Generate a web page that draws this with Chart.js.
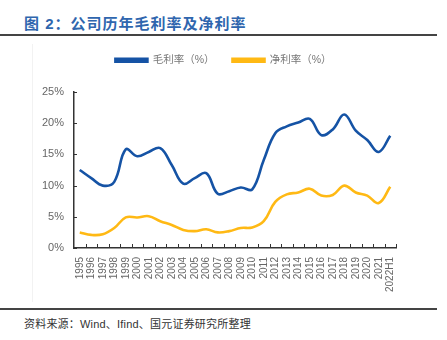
<!DOCTYPE html>
<html>
<head>
<meta charset="utf-8">
<script src="https://cdn.jsdelivr.net/npm/chart.js@4/dist/chart.umd.min.js"></script>
<style>
  body { margin: 0; background: #fff; width: 447px; height: 340px; position: relative; overflow: hidden; font-family: "Liberation Sans", "Noto Sans CJK SC", sans-serif; }
  .title { position: absolute; left: 24px; top: 12px; font-size: 15px; font-weight: bold; color: #2f66ae; letter-spacing: 1px; }
  .rule { position: absolute; left: 0; width: 437px; height: 1.5px; background: #444; }
  .frame { position: absolute; left: 32px; top: 44px; width: 1px; height: 258px; background: #f2f2f2; }
  .wrap { position: absolute; left: 0; top: 30px; width: 447px; height: 278px; }
  .source { position: absolute; left: 24px; top: 315px; font-size: 11px; color: #333; letter-spacing: 0.2px; }
</style>
</head>
<body>
<div class="title">图 2：公司历年毛利率及净利率</div>
<div class="rule" style="top:34px"></div>
<div class="frame"></div>
<div class="wrap"><canvas id="marginChart"></canvas></div>
<div class="rule" style="top:308px"></div>
<div class="source">资料来源：Wind、Ifind、国元证券研究所整理</div>

<script>
// years on the x axis
const years = ['1995', '1996', '1997', '1998', '1999', '2000', '2001', '2002', '2003', '2004',
    '2005', '2006', '2007', '2008', '2009', '2010', '2011', '2012', '2013', '2014',
    '2015', '2016', '2017', '2018', '2019', '2020', '2021', '2022H1']

// gross margin (%)
const grossMargin = [12.5, 11.2, 10.0, 10.6, 15.8, 14.7, 15.4, 16.0, 13.3, 10.3,
    11.2, 12.0, 8.7, 9.1, 9.7, 9.4, 14.1, 18.4, 19.5, 20.1,
    20.7, 18.1, 19.0, 21.4, 18.8, 17.3, 15.4, 18.0]

// net margin (%)
const netMargin = [2.5, 2.1, 2.2, 3.2, 4.9, 4.9, 5.1, 4.3, 3.7, 2.9,
    2.7, 3.0, 2.5, 2.7, 3.2, 3.3, 4.3, 7.4, 8.6, 8.9,
    9.5, 8.4, 8.5, 10.0, 8.9, 8.4, 7.2, 9.8]

const yTicks = [0, 5, 10, 15, 20, 25]

const blue = '#1553a5'
const yellow = '#ffb914'
const axisColor = '#333'

Chart.defaults.font.family = '"Liberation Sans", "Noto Sans CJK SC", sans-serif'
Chart.defaults.color = '#666'

// fixed legend height, and centre it on the whole canvas
const legendBox = {
    id: 'legendBox',
    beforeInit(chart) {
        const fit = chart.legend.fit
        chart.legend.fit = function () {
            fit.bind(chart.legend)()
            this.height = 55
        }
    },
    afterLayout(chart) {
        const lg = chart.legend
        lg.left = 0
        lg.right = chart.width
        lg.width = chart.width
    }
}

// short tick marks pointing into the plot
const innerTicks = {
    id: 'innerTicks',
    afterDraw(chart) {
        const ctx = chart.ctx
        const x = chart.scales.x
        const y = chart.scales.y
        ctx.save()
        ctx.strokeStyle = axisColor
        ctx.lineWidth = 1
        ctx.beginPath()
        const step = (x.right - x.left) / years.length
        for (let i = 1; i <= years.length; i++) {
            const px = Math.round(x.left + step * i) + 0.5
            ctx.moveTo(px, y.bottom)
            ctx.lineTo(px, y.bottom - 4)
        }
        yTicks.forEach(v => {
            const py = Math.round(y.getPixelForValue(v)) + 0.5
            ctx.moveTo(x.left, py)
            ctx.lineTo(x.left + 3, py)
        })
        ctx.stroke()
        ctx.restore()
    }
}

const ctx = document.getElementById('marginChart').getContext('2d')
const marginChart = new Chart(ctx, {
    type: 'line',
    data: {
        labels: years,
        datasets: [{
            label: '毛利率（%）',
            data: grossMargin,
            borderColor: blue,
            backgroundColor: blue,
            borderWidth: 2.6,
            tension: 0.4,
            pointRadius: 0
        }, {
            label: '净利率（%）',
            data: netMargin,
            borderColor: yellow,
            backgroundColor: yellow,
            borderWidth: 2.6,
            tension: 0.4,
            pointRadius: 0
        }]
    },
    options: {
        responsive: true,
        maintainAspectRatio: false,
        animation: false,
        layout: {
            padding: { top: 7, right: 51, left: 0, bottom: 0 }
        },
        plugins: {
            legend: {
                position: 'top',
                labels: {
                    boxWidth: 32,
                    boxHeight: 3,
                    padding: 18,
                    color: '#777',
                    font: { size: 10.5 }
                }
            },
            tooltip: { enabled: false }
        },
        scales: {
            x: {
                offset: true,
                grid: { display: true, drawOnChartArea: false, drawTicks: false },
                border: { color: axisColor, width: 1.5 },
                ticks: {
                    minRotation: 90,
                    maxRotation: 90,
                    padding: 9,
                    autoSkip: false,
                    font: { size: 10 }
                },
                afterFit: scale => { scale.height = 60 }
            },
            y: {
                min: 0,
                max: 25,
                grid: { display: true, drawOnChartArea: false, drawTicks: false },
                border: { color: axisColor, width: 1.5 },
                afterBuildTicks: scale => { scale.ticks = yTicks.map(v => ({ value: v })) },
                ticks: {
                    padding: 10,
                    font: { size: 11 },
                    callback: v => v + '%'
                },
                afterFit: scale => { scale.width = 74 }
            }
        }
    },
    plugins: [legendBox, innerTicks]
})
</script>
</body>
</html>
